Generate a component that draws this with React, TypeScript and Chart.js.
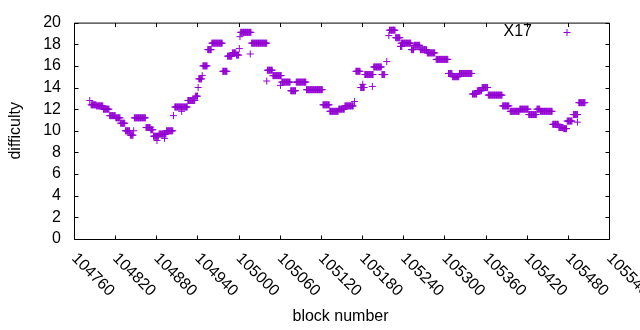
import React, { useEffect, useRef } from 'react';
import { Chart, registerables } from 'chart.js';

Chart.register(...registerables);

// Runs of consecutive blocks sharing one difficulty value (start block, end block, value)
const runStart = [
  104783, 104785, 104793, 104803, 104812, 104821, 104828, 104835, 104842, 104847,
  104848, 104865, 104872, 104876, 104881, 104884, 104892, 104895, 104905, 104907,
  104917, 104926, 104937, 104941, 104942, 104947, 104948, 104955, 104961, 104977,
  104984, 104991, 104997, 105001, 105002, 105003, 105017, 105019, 105041, 105042,
  105050, 105061, 105063, 105076, 105084, 105099, 105123, 105133, 105146, 105155,
  105169, 105171, 105178, 105181, 105184, 105195, 105197, 105209, 105216, 105219,
  105220, 105229, 105236, 105237, 105252, 105256, 105265, 105275, 105288, 105306,
  105312, 105322, 105341, 105348, 105355, 105364, 105385, 105396, 105410, 105423,
  105435, 105440, 105458, 105467, 105474, 105479, 105488, 105494, 105496,
];
const runEnd = [
  104783, 104792, 104802, 104811, 104820, 104827, 104834, 104841, 104846, 104847,
  104864, 104871, 104875, 104883, 104881, 104894, 104892, 104904, 104905, 104925,
  104917, 104936, 104940, 104941, 104946, 104947, 104954, 104960, 104976, 104983,
  104990, 104996, 105000, 105001, 105002, 105018, 105017, 105041, 105041, 105049,
  105062, 105061, 105075, 105083, 105098, 105122, 105132, 105145, 105154, 105167,
  105169, 105177, 105183, 105181, 105196, 105195, 105208, 105213, 105216, 105219,
  105228, 105235, 105238, 105251, 105255, 105264, 105274, 105286, 105305, 105311,
  105321, 105340, 105347, 105354, 105363, 105384, 105394, 105409, 105422, 105434,
  105439, 105457, 105466, 105473, 105478, 105486, 105494, 105494, 105505,
];
const runValue = [
  12.8, 12.4, 12.3, 12.0, 11.4, 11.2, 10.7, 10.0, 9.6, 10.0,
  11.2, 10.3, 10.1, 9.5, 9.1, 9.7, 9.3, 10.0, 11.4, 12.2,
  11.8, 12.8, 13.2, 14.0, 14.8, 15.1, 16.0, 17.5, 18.1, 15.5,
  16.9, 17.2, 17.0, 17.6, 18.7, 19.1, 17.1, 18.1, 14.6, 15.6,
  15.1, 14.2, 14.5, 13.7, 14.5, 13.8, 12.4, 11.8, 12.0, 12.3,
  12.7, 15.5, 14.0, 14.3, 15.2, 14.1, 15.9, 15.2, 16.4, 18.8,
  19.3, 18.6, 17.8, 18.1, 17.5, 17.9, 17.5, 17.2, 16.6, 15.3,
  15.0, 15.3, 13.4, 13.7, 14.0, 13.3, 12.3, 11.8, 12.0, 11.5,
  12.0, 11.8, 10.6, 10.3, 10.2, 10.9, 11.5, 10.8, 12.6,
];

const xTicks = [
  104760, 104820, 104880, 104940, 105000, 105060, 105120,
  105180, 105240, 105300, 105360, 105420, 105480, 105540,
];
const yTicks = [0, 2, 4, 6, 8, 10, 12, 14, 16, 18, 20];
const seriesLabel = 'X17';
const xTitle = 'block number';
const yTitle = 'difficulty';

const COLOR = '#9400D3';
const FAMILY = '"Liberation Sans", Arial, sans-serif';
const FONT = '16px ' + FAMILY;

const points: { x: number; y: number }[] = [];
runStart.forEach((s, i) => {
  for (let b = s; b <= runEnd[i]; b++) points.push({ x: b, y: runValue[i] });
});

const framePlugin = {
  id: 'gnuplotFrame',
  afterDraw(chart: any) {
    const { ctx, chartArea: a, scales } = chart;
    const xs = scales.x;
    const ys = scales.y;
    ctx.save();
    ctx.strokeStyle = '#000';
    ctx.lineWidth = 1;
    const L = a.left + 0.5;
    const R = a.right + 0.5;
    const T = a.top + 0.5;
    const B = a.bottom + 0.5;
    ctx.beginPath();
    ctx.rect(L, T, R - L, B - T);
    ctx.stroke();
    const TL = 4;
    ctx.beginPath();
    xTicks.forEach((v) => {
      const px = Math.round(xs.getPixelForValue(v)) + 0.5;
      ctx.moveTo(px, B);
      ctx.lineTo(px, B - TL);
      ctx.moveTo(px, T);
      ctx.lineTo(px, T + TL);
    });
    yTicks.forEach((v) => {
      const py = Math.round(ys.getPixelForValue(v)) + 0.5;
      ctx.moveTo(L, py);
      ctx.lineTo(L + TL, py);
      ctx.moveTo(R, py);
      ctx.lineTo(R - TL, py);
    });
    ctx.stroke();

    ctx.fillStyle = '#000';
    ctx.font = FONT;
    // x tick labels, rotated 45deg clockwise
    xTicks.forEach((v) => {
      const px = xs.getPixelForValue(v);
      ctx.save();
      ctx.translate(px, a.bottom + 17);
      ctx.rotate(Math.PI / 4);
      ctx.textAlign = 'left';
      ctx.textBaseline = 'middle';
      ctx.fillText(String(v), 0, 0);
      ctx.restore();
    });
    // axis titles
    ctx.textAlign = 'center';
    ctx.textBaseline = 'alphabetic';
    ctx.fillText(xTitle, (a.left + a.right) / 2 - 1, 321);
    ctx.save();
    ctx.translate(16, (a.top + a.bottom) / 2);
    ctx.rotate(-Math.PI / 2);
    ctx.textBaseline = 'middle';
    ctx.fillText(yTitle, 0, 0);
    ctx.restore();
    // legend
    ctx.textAlign = 'right';
    ctx.textBaseline = 'middle';
    ctx.fillText(seriesLabel, 532, 32);
    ctx.strokeStyle = COLOR;
    ctx.beginPath();
    ctx.moveTo(563.5, 32.5);
    ctx.lineTo(570.5, 32.5);
    ctx.moveTo(567, 29);
    ctx.lineTo(567, 36);
    ctx.stroke();
    ctx.restore();
  },
};

export default function App() {
  const ref = useRef<HTMLCanvasElement | null>(null);
  useEffect(() => {
    if (!ref.current) return;
    const chart = new Chart(ref.current, {
      type: 'scatter',
      data: {
        datasets: [
          {
            label: seriesLabel,
            data: points,
            pointStyle: 'cross',
            pointRadius: 3.5,
            pointBorderWidth: 1,
            borderColor: COLOR,
            backgroundColor: COLOR,
            pointHoverRadius: 3.5,
          },
        ],
      },
      options: {
        animation: false,
        responsive: false,
        events: [],
        layout: { padding: { top: 19, right: 31, left: 0, bottom: 0 } },
        plugins: { legend: { display: false }, tooltip: { enabled: false } },
        scales: {
          x: {
            type: 'linear',
            min: 104760,
            max: 105540,
            grid: { display: false, drawTicks: false },
            border: { display: false },
            ticks: { display: false },
            afterFit: (s: any) => {
              s.height = 91;
            },
          },
          y: {
            type: 'linear',
            min: 0,
            max: 20,
            grid: { display: false, drawTicks: false },
            border: { display: false },
            afterBuildTicks: (s: any) => {
              s.ticks = yTicks.map((v) => ({ value: v }));
            },
            ticks: {
              autoSkip: false,
              padding: 13,
              color: '#000',
              font: { family: FAMILY, size: 16 },
            },
            afterFit: (s: any) => {
              s.width = 74;
            },
          },
        },
      },
      plugins: [framePlugin],
    });
    return () => chart.destroy();
  }, []);
  return (
    <div style={{ position: 'absolute', left: 0, top: 0, width: 640, height: 330, background: '#fff' }}>
      <canvas ref={ref} width={640} height={330} style={{ display: 'block' }} />
    </div>
  );
}
